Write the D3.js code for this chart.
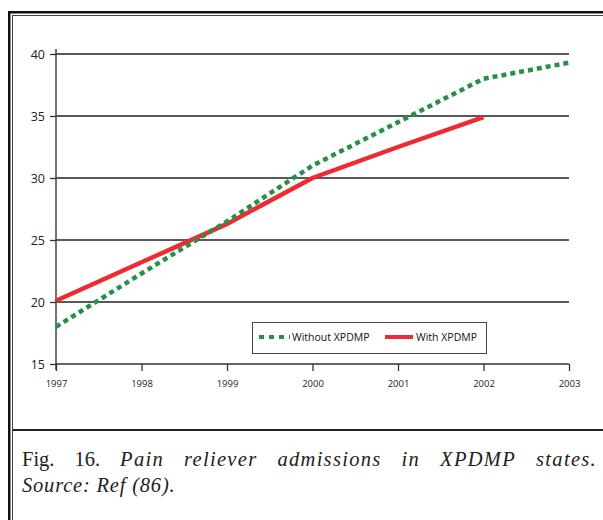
<!DOCTYPE html>
<html><head><meta charset="utf-8">
<script src="https://cdn.jsdelivr.net/npm/d3@7"></script>
<style>html,body{margin:0;padding:0;background:#fff;overflow:hidden}</style>
</head><body>
<svg id="c" width="603" height="520"></svg>
<script>
const years = [1997, 1998, 1999, 2000, 2001, 2002, 2003];
const withoutXPDMP = [18.0, 22.3, 26.5, 31.0, 34.5, 38.0, 39.3];
const withXPDMP = [20.1, 23.2, 26.3, 30.0, 32.5, 34.9];
const yTicks = [15, 20, 25, 30, 35, 40];
const seriesNames = ["Without XPDMP", "With XPDMP"];
const captionLead = ["Fig.", "16."];
const captionItalic = ["Pain", "reliever", "admissions", "in", "XPDMP", "states."];
const captionLine2 = "Source: Ref (86).";

const svg = d3.select("#c");
svg.append("rect").attr("x", 9.25).attr("y", 12.25).attr("width", 800).attr("height", 700)
  .attr("fill", "none").attr("stroke", "#111").attr("stroke-width", 2.5);
svg.append("rect").attr("x", 12.5).attr("y", 15.5).attr("width", 800).attr("height", 700)
  .attr("fill", "none").attr("stroke", "#444").attr("stroke-width", 1);
svg.append("line").attr("x1", 13).attr("x2", 603).attr("y1", 430).attr("y2", 430)
  .attr("stroke", "#222").attr("stroke-width", 2);

const x = d3.scaleLinear().domain([1997, 2003]).range([56, 569]);
const y = d3.scaleLinear().domain([15, 40]).range([364, 54]);

svg.append("g").selectAll("line").data(yTicks.filter(d => d > 15)).join("line")
  .attr("x1", x(1997)).attr("x2", x(2003)).attr("y1", d => y(d)).attr("y2", d => y(d))
  .attr("stroke", "#222").attr("stroke-width", 1.3);

const yAxis = svg.append("g").attr("transform", `translate(${x(1997)},0)`)
  .call(d3.axisLeft(y).tickValues(yTicks).tickSize(6).tickPadding(5).tickFormat(d3.format("d")));
yAxis.select(".domain").attr("d", `M0,${y(40) - 5}V${y(15) + 6}`).attr("stroke", "#444").attr("stroke-width", 1.5);
yAxis.selectAll(".tick line").attr("stroke", "#333").attr("stroke-width", 1.3);
yAxis.selectAll("text").attr("font-family", "Open Sans").attr("font-size", 12.5).attr("fill", "#222");

const xAxis = svg.append("g").attr("transform", `translate(0,${y(15)})`)
  .call(d3.axisBottom(x).tickValues(years).tickSize(7).tickPadding(9).tickFormat(d3.format("d")));
xAxis.select(".domain").attr("d", `M${x(1997)},0H${x(2003)}`).attr("stroke", "#333").attr("stroke-width", 1.5);
xAxis.selectAll(".tick line").attr("stroke", "#333").attr("stroke-width", 1.3);
xAxis.selectAll("text").attr("font-family", "Open Sans").attr("font-size", 9.5).attr("fill", "#222");

const line = d3.line().x((d, i) => x(years[i])).y(d => y(d));
svg.append("path").datum(withXPDMP).attr("d", line).attr("fill", "none")
  .attr("stroke", "#ee2b30").attr("stroke-width", 4.5);
svg.append("path").datum(withoutXPDMP).attr("d", line).attr("fill", "none")
  .attr("stroke", "#24904a").attr("stroke-width", 4.5).attr("stroke-dasharray", "5,4");

const lg = svg.append("g");
lg.append("rect").attr("x", 252.5).attr("y", 322.5).attr("width", 234).attr("height", 31)
  .attr("fill", "#fff").attr("stroke", "#444").attr("stroke-width", 1);
lg.append("line").attr("x1", 259).attr("x2", 290).attr("y1", 337).attr("y2", 337)
  .attr("stroke", "#24904a").attr("stroke-width", 4).attr("stroke-dasharray", "5,5");
lg.append("text").attr("x", 292).attr("y", 340.5).text(seriesNames[0])
  .attr("font-family", "Open Sans").attr("font-size", 10.5).attr("fill", "#111");
lg.append("line").attr("x1", 385).attr("x2", 413).attr("y1", 337).attr("y2", 337)
  .attr("stroke", "#ee2b30").attr("stroke-width", 4);
lg.append("text").attr("x", 416).attr("y", 340.5).text(seriesNames[1])
  .attr("font-family", "Open Sans").attr("font-size", 10.5).attr("fill", "#111");

const cap = svg.append("g").attr("font-family", "Liberation Serif").attr("font-size", 20.5).attr("fill", "#222");
const words = captionLead.map(w => ({w, it: false})).concat(captionItalic.map(w => ({w, it: true})));
const nodes = words.map(o => cap.append("text").attr("y", 466)
  .attr("font-style", o.it ? "italic" : "normal")
  .attr("letter-spacing", o.it ? 1.3 : 0).text(o.w));
const widths = nodes.map(n => n.node().getComputedTextLength());
const left = 22, right = 597;
const total = d3.sum(widths);
const gap = (right - left - total) / (words.length - 1);
let cx = left;
nodes.forEach((n, i) => { n.attr("x", cx); cx += widths[i] + gap; });
cap.append("text").attr("x", left).attr("y", 492).attr("font-style", "italic")
  .attr("letter-spacing", 0.8).text(captionLine2);
</script>
</body></html>
